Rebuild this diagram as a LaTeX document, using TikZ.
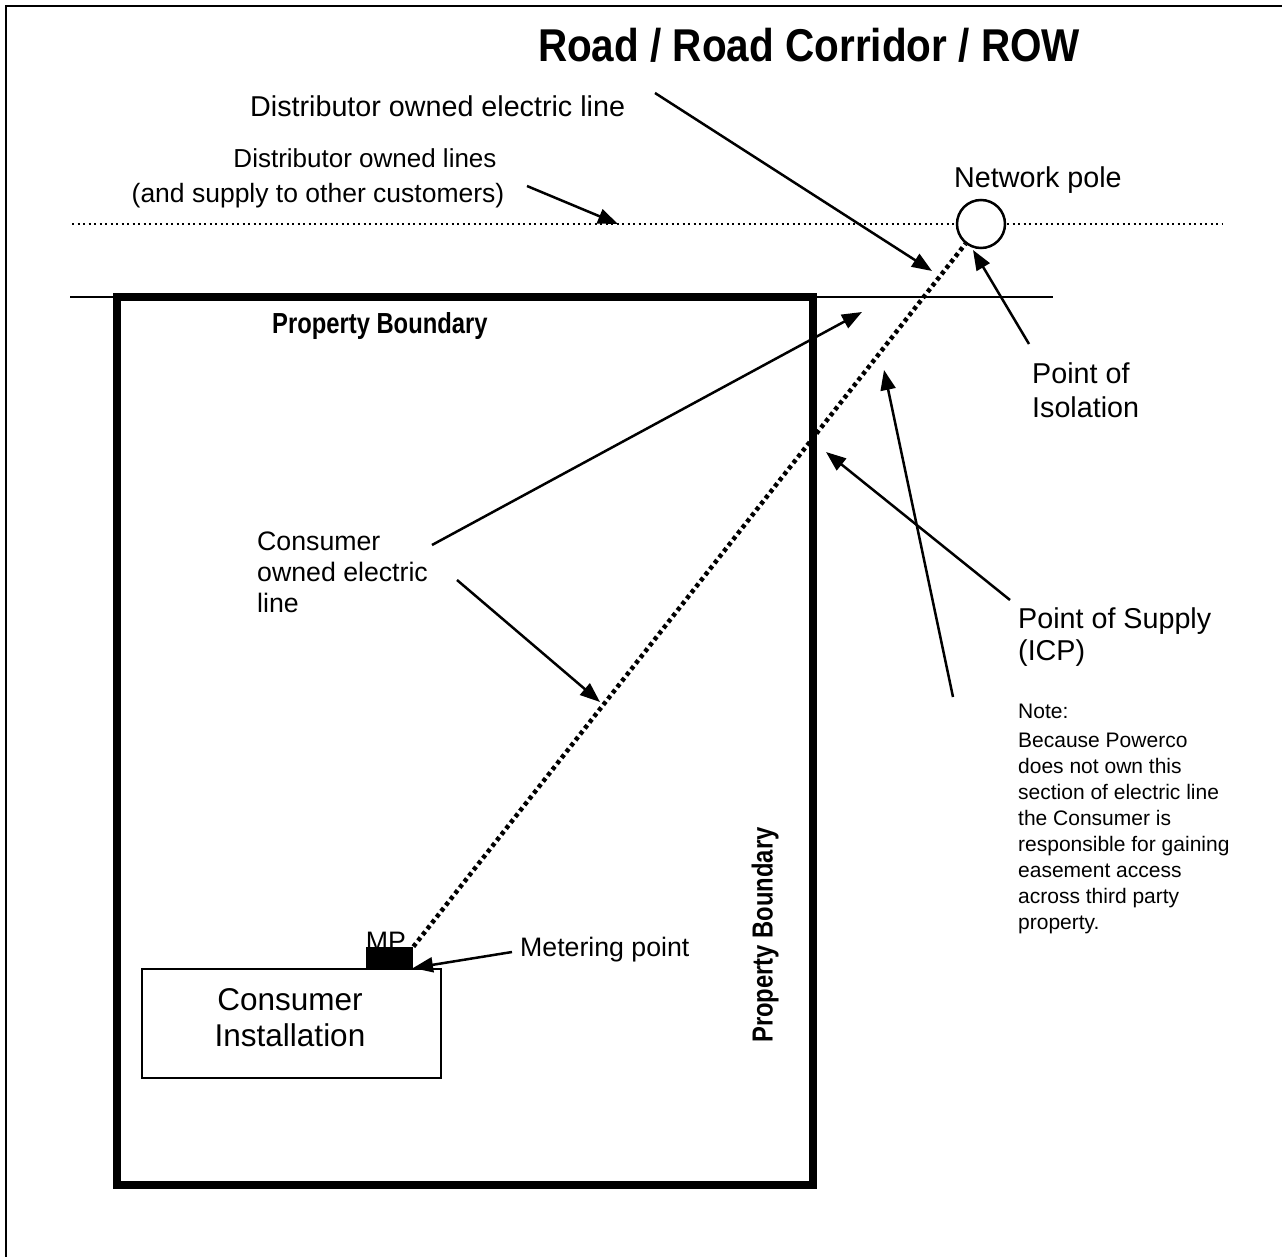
\documentclass[tikz,border=0pt]{standalone}
\usepackage{fontspec}
\setmainfont{Liberation Sans}
\newfontfamily\narrowbold[FakeStretch=0.82]{Liberation Sans Bold}
\newfontfamily\titlebold[FakeStretch=0.88]{Liberation Sans Bold}
\usetikzlibrary{arrows.meta}
\begin{document}
\begin{tikzpicture}[x=1pt,y=-1pt,
  txt/.style={inner sep=0pt,font=\fontsize{28.7}{31}\selectfont},
  txts/.style={inner sep=0pt,font=\fontsize{26.7}{31}\selectfont},
  big/.style={inner sep=0pt,font=\fontsize{31.5}{36}\selectfont},
  pb/.style={inner sep=0pt,font=\fontsize{29}{33}\narrowbold},
  callout/.style={line width=2.5pt,-{Triangle[length=20pt,width=15pt]}},
  thin/.style={line width=2pt}]
\useasboundingbox (0,0) rectangle (1282,1257);
% outer frame (top and left only)
\draw[line width=2.5pt] (6,1257) -- (6,6) -- (1282,6);
% title
\node[inner sep=0pt,font=\fontsize{46}{50}\titlebold,anchor=base] (title) at (809,62) {Road / Road Corridor / ROW};
% road lines
\coordinate (roadL) at (72,224);
\coordinate (roadR) at (1222,224);
\draw[line width=2pt,dash pattern=on 2pt off 3.5pt] (roadL) -- (roadR);
\coordinate (bndL) at (70,297);
\coordinate (bndR) at (1053,297);
\draw[thin] (bndL) -- (bndR);
% property boundary
\draw[line width=8pt] (117,297) rectangle (813,1185);
% consumer installation
\node[draw,thin,minimum width=299pt,minimum height=109pt,inner sep=0pt,anchor=north west] (ci) at (141,968) {};
\node[big,anchor=base] (ci1) at (290,1010) {Consumer};
\node[big,anchor=base] (ci2) at (290,1046) {Installation};
% MP
\node[fill=black,minimum width=47pt,minimum height=21pt,inner sep=0pt,anchor=south west] (mp) at (366,968) {};
\node[txts,anchor=base] (mpt) at (386,950) {MP};
% pole
\node[draw,line width=2.5pt,fill=white,circle,minimum size=48pt,inner sep=0pt] (pole) at (981,224) {};
% consumer line
\draw[line width=4.5pt,dash pattern=on 4pt off 3.5pt] (mp.north east) -- (pole);
% labels
\node[txt,anchor=base west] (del) at (250,117) {Distributor owned electric line};
\node[inner sep=0pt,font=\fontsize{26}{30}\selectfont,anchor=base] (dol1) at (365,168) {Distributor owned lines};
\node[inner sep=0pt,font=\fontsize{26.5}{30}\selectfont,anchor=base] (dol2) at (318,203) {(and supply to other customers)};
\node[txt,anchor=base west] (np) at (954,188) {Network pole};
\node[pb,anchor=base west] (pbh) at (272,333) {Property Boundary};
\node[pb,rotate=90,anchor=center] (pbv) at (765,935) {Property Boundary};
\node[txt,anchor=base west] (poi1) at (1032,383) {Point of};
\node[txt,anchor=base west] (poi2) at (1032,417) {Isolation};
\node[txts,anchor=base west] (col1) at (257,550) {Consumer};
\node[txts,anchor=base west] (col2) at (257,581) {owned electric};
\node[txts,anchor=base west] (col3) at (257,612) {line};
\node[txt,anchor=base west] (pos1) at (1018,628) {Point of Supply};
\node[txt,anchor=base west] (pos2) at (1018,660) {(ICP)};
\node[txts,anchor=base west] (mpl) at (520,956) {Metering point};
\node[inner sep=0pt,anchor=base west,font=\fontsize{21}{24}\selectfont] (note0) at (1018,718) {Note:};
\node[inner sep=0pt,anchor=north west,align=left,font=\fontsize{21}{26}\selectfont] (note) at (1018,733)
  {Because Powerco\\does not own this\\section of electric line\\the Consumer is\\responsible for gaining\\easement access\\across third party\\property.};
% callout arrows
\coordinate (a1s) at (655,93);   \coordinate (a1e) at (932,271);
\coordinate (a2s) at (527,186);  \coordinate (a2e) at (618,224);
\coordinate (a3s) at (1029,344); \coordinate (a3e) at (973,250);
\coordinate (a4s) at (432,545);  \coordinate (a4e) at (862,312);
\coordinate (a5s) at (457,580);  \coordinate (a5e) at (600,702);
\coordinate (a6s) at (953,697);  \coordinate (a6e) at (884,370);
\coordinate (a7s) at (1010,600); \coordinate (a7e) at (826,452);
\coordinate (a8s) at (512,952);  \coordinate (a8e) at (413,968);
\draw[callout] (a1s) -- (a1e);
\draw[callout] (a2s) -- (a2e);
\draw[callout] (a3s) -- (a3e);
\draw[callout] (a4s) -- (a4e);
\draw[callout] (a5s) -- (a5e);
\draw[callout] (a6s) -- (a6e);
\draw[callout] (a7s) -- (a7e);
\draw[callout] (a8s) -- (a8e);
\end{tikzpicture}
\end{document}
